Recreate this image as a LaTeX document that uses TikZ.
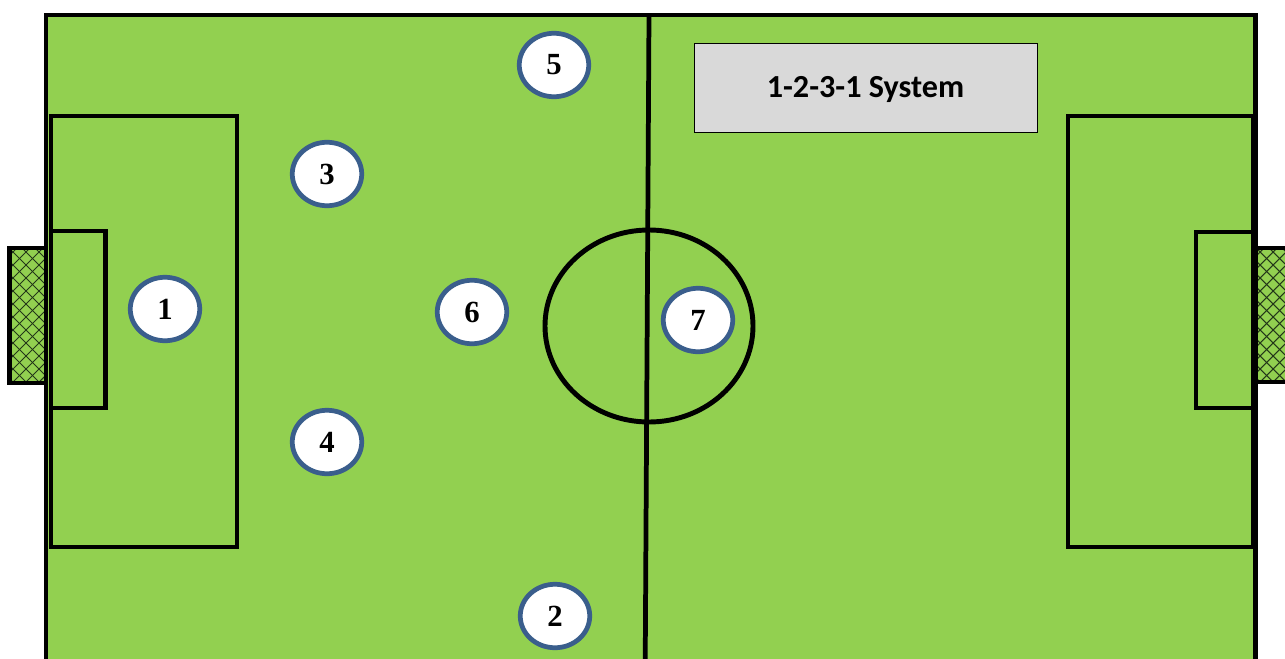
\documentclass[tikz,border=0pt]{standalone}
\usepackage{fontspec}
\setmainfont{Liberation Serif}
\newfontfamily\calib{Carlito}
\usetikzlibrary{shapes.geometric}
\definecolor{pitch}{HTML}{92D050}
\definecolor{ring}{RGB}{58,94,140}
\definecolor{boxgray}{HTML}{D9D9D9}
\definecolor{netcol}{RGB}{35,55,25}
\tikzset{
 fieldline/.style={line width=2.8pt, line join=miter},
 player/.style={ellipse, draw=ring, line width=2.7pt, fill=white, minimum width=1.39cm, minimum height=1.27cm, inner sep=0pt, font=\fontsize{17.5}{20}\selectfont\bfseries},
 titlebox/.style={rectangle, draw=black, line width=0.5pt, fill=boxgray, minimum width=6.86cm, minimum height=1.78cm, inner sep=0pt, text height=11.3pt, text depth=0pt, font=\calib\fontsize{18.3}{21}\selectfont\bfseries},
 netstroke/.style={draw=netcol, line width=0.6pt}
}
\begin{document}
\begin{tikzpicture}[x=0.02cm,y=-0.02cm]
\useasboundingbox (0,0) rectangle (1285,659);
\clip (0,0) rectangle (1285,659);
% pitch
\fill[pitch] (46,15) rectangle (1255.5,700);
% nets
\fill[pitch] (9.5,248) rectangle (46,383);
\begin{scope}
\clip (9.5,248) rectangle (46,383);
\foreach \c in {-260,-247,...,320} { \draw[netstroke] (\c,200) -- ++(250,250); \draw[netstroke] (\c,200) -- ++(-250,250);}
\end{scope}
\fill[pitch] (1255.5,248) rectangle (1300,382);
\begin{scope}
\clip (1255.5,248) rectangle (1300,382);
\foreach \c in {1000,1013,...,1560} { \draw[netstroke] (\c,200) -- ++(250,250); \draw[netstroke] (\c,200) -- ++(-250,250);}
\end{scope}
\draw[fieldline] (46,248) -- (9.5,248) -- (9.5,383) -- (46,383);
\draw[fieldline] (1255.5,248) -- (1300,248) (1300,382) -- (1255.5,382);
% outer lines
\draw[fieldline] (46,700) -- (46,15) -- (1255.5,15) -- (1255.5,700);
% penalty boxes
\draw[fieldline] (51,116) rectangle (237,547);
\draw[fieldline] (1068,116) rectangle (1253,547);
% goal areas
\draw[fieldline] (51,231) rectangle (105.5,408);
\draw[fieldline] (1196,232) rectangle (1253,408);
% halfway line and centre circle
\draw[line width=2.7pt] (649,15) -- (645,700);
\draw[fieldline] (649,326) ellipse [x radius=104, y radius=96];
% title
\node[titlebox] (title) at (865.5,87.5) {1-2-3-1 System};
% players
\node[player] (p1) at (165,309) {1};
\node[player] (p2) at (555,616) {2};
\node[player] (p3) at (327,174) {3};
\node[player] (p4) at (327,442) {4};
\node[player] (p5) at (554,65) {5};
\node[player] (p6) at (472,312) {6};
\node[player] (p7) at (698,320) {7};
\end{tikzpicture}
\end{document}
